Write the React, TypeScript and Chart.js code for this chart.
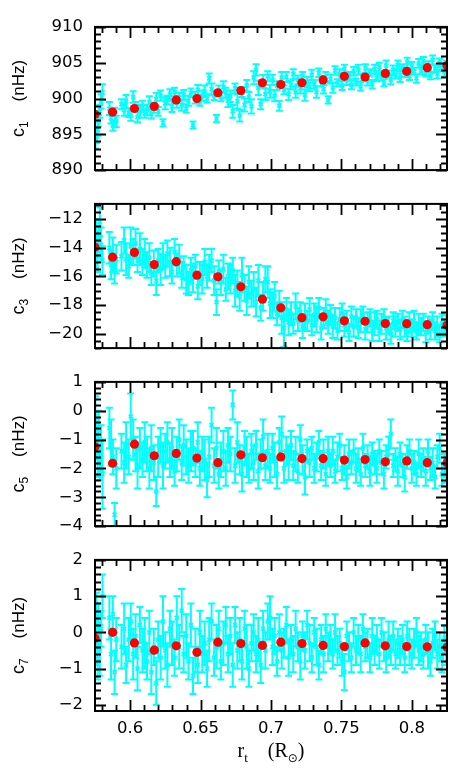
import React, { useEffect, useRef } from "react";
import { Chart, registerables } from "chart.js";

Chart.register(...registerables);

// ---------- data ----------
const R_T = [
  0.5753, 0.5760, 0.5768, 0.5776, 0.5784, 0.5793, 0.5803, 0.5852, 0.5864, 0.5877,
  0.5889, 0.5901, 0.5938, 0.5957, 0.5971, 0.5990, 0.6004, 0.6021, 0.6038, 0.6052,
  0.6069, 0.6087, 0.6103, 0.6119, 0.6136, 0.6150, 0.6168, 0.6185, 0.6199, 0.6216,
  0.6233, 0.6249, 0.6264, 0.6282, 0.6297, 0.6315, 0.6331, 0.6348, 0.6366, 0.6380,
  0.6398, 0.6414, 0.6431, 0.6446, 0.6463, 0.6480, 0.6495, 0.6512, 0.6529, 0.6546,
  0.6561, 0.6578, 0.6596, 0.6613, 0.6629, 0.6644, 0.6662, 0.6679, 0.6695, 0.6711,
  0.6728, 0.6745, 0.6761, 0.6778, 0.6794, 0.6812, 0.6828, 0.6843, 0.6861, 0.6877,
  0.6894, 0.6910, 0.6927, 0.6944, 0.6960, 0.6977, 0.6993, 0.7010, 0.7026, 0.7043,
  0.7059, 0.7076, 0.7092, 0.7109, 0.7125, 0.7142, 0.7158, 0.7175, 0.7191, 0.7208,
  0.7224, 0.7241, 0.7257, 0.7274, 0.7290, 0.7307, 0.7323, 0.7340, 0.7356, 0.7373,
  0.7389, 0.7406, 0.7422, 0.7439, 0.7455, 0.7472, 0.7488, 0.7505, 0.7521, 0.7538,
  0.7554, 0.7571, 0.7587, 0.7604, 0.7620, 0.7637, 0.7653, 0.7670, 0.7686, 0.7703,
  0.7719, 0.7736, 0.7752, 0.7769, 0.7785, 0.7802, 0.7818, 0.7835, 0.7851, 0.7868,
  0.7884, 0.7901, 0.7917, 0.7934, 0.7950, 0.7967, 0.7983, 0.8000, 0.8016, 0.8033,
  0.8049, 0.8066, 0.8082, 0.8099, 0.8115, 0.8132, 0.8148, 0.8165, 0.8181, 0.8198,
  0.8214, 0.8231, 0.8244,
];

const C1 = [
  893.9, 894.6, 895.8, 896.9, 898.2, 899.6, 900.9, 898.6, 897.3, 896.2,
  897.8, 896.8, 899.2, 898.4, 899.6, 898.0, 897.6, 900.2, 898.9, 897.4,
  898.2, 899.0, 897.9, 898.4, 899.5, 897.8, 898.7, 899.9, 898.2, 900.4,
  896.6, 899.3, 899.8, 900.6, 898.9, 900.9, 899.4, 900.2, 899.1, 900.5,
  898.6, 899.7, 900.8, 896.3, 900.1, 901.2, 899.6, 900.4, 901.0, 900.0,
  902.8, 901.3, 900.4, 897.2, 901.1, 900.2, 901.6, 900.8, 899.7, 900.3,
  898.2, 901.4, 899.6, 897.6, 900.9, 899.1, 901.8, 900.2, 898.9, 902.9,
  904.0, 901.5, 899.2, 902.4, 900.6, 903.1, 901.0, 902.6, 900.4, 901.8,
  899.0, 902.9, 901.2, 903.0, 900.6, 901.9, 903.4, 900.9, 902.6, 901.4,
  903.1, 900.5, 902.3, 901.6, 903.3, 902.0, 900.9, 903.6, 902.4, 901.3,
  903.0, 899.8, 902.7, 901.5, 903.9, 902.2, 903.4, 901.8, 904.1, 902.6,
  903.2, 901.9, 903.8, 902.3, 904.0, 901.7, 903.0, 904.2, 902.5, 903.6,
  902.0, 904.1, 902.9, 904.4, 903.1, 902.2, 904.6, 903.4, 902.6, 904.0,
  903.3, 904.7, 902.9, 904.3, 903.6, 905.0, 903.1, 904.5, 903.8, 902.8,
  904.9, 903.9, 905.2, 903.6, 904.6, 903.2, 905.4, 904.1, 903.4, 905.0,
  904.3, 903.7, 904.8,
];
const C1_ERR = [
  0.9, 0.8, 1.0, 0.8, 0.9, 1.0, 1.1, 0.9, 0.8, 0.7, 0.9, 0.8,
  0.7, 0.8, 0.9, 0.6, 0.7, 0.8, 0.6, 0.7, 0.9, 0.7, 0.6,
  0.7, 0.8, 0.6, 0.7, 0.9, 0.6, 0.7, 0.5, 0.8,
  0.6, 0.7, 0.8, 0.6, 0.7, 0.6, 0.8, 0.7, 0.6,
  0.7, 0.6, 0.5, 0.8, 0.7, 0.6, 0.7, 0.8, 0.6,
  0.7, 0.8, 0.6, 0.5, 0.7, 0.6, 0.8, 0.7, 0.9,
  0.8, 0.9, 0.7, 1.0, 0.8, 0.7, 0.9, 0.8, 0.7, 1.0,
  0.9, 0.8, 1.0, 0.7, 0.9, 0.8, 0.7, 0.9,
  0.7, 0.8, 0.6, 0.7, 0.8, 0.6, 0.7, 0.8,
  0.6, 0.7, 0.8, 0.6, 0.7, 0.6, 0.8, 0.7,
  0.6, 0.7, 0.6, 0.8, 0.6, 0.7, 0.6, 0.7, 0.5,
  0.6, 0.7, 0.6, 0.5, 0.7, 0.6, 0.6, 0.7, 0.5, 0.6,
  0.6, 0.5, 0.7, 0.6, 0.5, 0.6, 0.7, 0.5, 0.6, 0.6,
  0.5, 0.6, 0.6, 0.5, 0.7, 0.5, 0.6, 0.6, 0.5, 0.6,
  0.6, 0.5, 0.6, 0.7, 0.5, 0.6, 0.5, 0.6, 0.6, 0.5,
  0.6, 0.5, 0.6, 0.5, 0.6, 0.5, 0.6, 0.6, 0.5, 0.6, 0.5,
];

const C3 = [
  -14.2, -13.0, -14.6, -13.4, -12.2, -13.8, -14.9, -14.0, -15.2, -14.5,
  -15.6, -14.8, -14.6, -13.5, -14.8, -15.3, -13.9, -14.3, -13.7, -14.9,
  -14.1, -15.0, -14.4, -15.2, -14.7, -15.8, -15.1, -16.3, -14.9, -15.5,
  -14.6, -15.3, -14.4, -15.0, -15.7, -14.3, -15.2, -14.8, -15.9, -15.4,
  -16.2, -16.5, -15.6, -16.1, -15.3, -16.7, -15.8, -16.2, -15.0, -16.0,
  -15.4, -14.9, -16.3, -17.8, -15.7, -16.4, -15.5, -16.9, -16.0, -16.2,
  -15.6, -17.0, -16.5, -17.4, -15.9, -16.8, -17.7, -16.4, -17.2, -16.9,
  -17.8, -16.3, -18.2, -17.4, -16.2, -16.4, -17.9, -18.0, -17.4, -18.6,
  -17.9, -18.9, -19.6, -18.3, -19.2, -18.6, -19.3, -18.1, -19.0, -18.5,
  -19.5, -18.8, -19.1, -18.3, -19.4, -18.7, -19.0, -18.2, -19.6, -18.9,
  -18.5, -19.2, -18.7, -19.5, -18.9, -19.8, -19.0, -18.6, -19.4, -19.1,
  -19.9, -18.8, -19.5, -18.9, -19.6, -19.1, -18.7, -19.7, -19.2, -18.9,
  -19.8, -19.3, -19.0, -19.8, -19.3, -18.9, -19.6, -19.4, -20.0, -19.1,
  -19.5, -19.2, -19.7, -19.0, -19.5, -19.9, -19.2, -19.6, -19.1, -19.8,
  -19.3, -19.5, -19.2, -19.9, -19.4, -19.7, -19.1, -19.8, -19.5, -20.0,
  -19.3, -19.6, -19.4,
];
const C3_ERR = [
  1.2, 1.0, 1.1, 0.9, 1.0, 1.2, 1.0, 1.1, 1.0, 1.2, 0.9, 1.0,
  1.0, 0.9, 1.1, 0.8, 1.3, 0.9, 1.0, 0.8, 1.1, 0.9, 1.0,
  0.9, 1.0, 0.8, 0.9, 1.0, 0.8, 1.1, 0.9, 0.8,
  0.9, 1.0, 0.8, 0.9, 0.8, 1.0, 0.9, 0.8, 1.0,
  0.8, 0.9, 1.0, 0.8, 0.9, 0.8, 1.0, 0.9, 0.8,
  0.9, 0.8, 1.0, 0.9, 0.8, 0.9, 1.0, 0.8, 0.9,
  1.0, 0.9, 1.1, 0.9, 1.0, 1.2, 0.9, 1.0, 1.1, 0.9,
  1.2, 1.0, 1.1, 0.9, 1.0, 0.9, 1.1, 1.0,
  0.9, 1.0, 0.8, 0.9, 1.1, 1.3, 0.8, 0.9,
  0.8, 0.7, 0.9, 0.8, 0.7, 0.8, 0.9, 0.7,
  0.8, 0.7, 0.8, 0.9, 0.7, 0.8, 0.7, 0.9, 0.8,
  0.7, 0.8, 0.7, 0.6, 0.8, 0.7, 0.8, 0.7, 0.6, 0.7,
  0.7, 0.6, 0.7, 0.8, 0.6, 0.7, 0.7, 0.6, 0.7, 0.8,
  0.6, 0.7, 0.7, 0.6, 0.8, 0.6, 0.7, 0.6, 0.7, 0.6,
  0.7, 0.6, 0.7, 0.6, 0.7, 0.6, 0.7, 0.6, 0.7, 0.6,
  0.6, 0.7, 0.6, 0.7, 0.6, 0.6, 0.7, 0.6, 0.7, 0.6, 0.7,
];

const C5 = [
  -0.1, -1.0, -1.5, -0.7, -1.8, -1.3, -2.2, -0.6, -1.1, -1.6,
  -3.6, -2.0, -1.4, -1.8, -1.2, -1.6, -0.2, -1.0, -1.5, -1.9,
  -1.3, -1.7, -1.1, -1.5, -2.0, -1.3, -1.8, -2.8, -1.6, -1.2,
  -1.9, -1.4, -1.1, -1.7, -1.3, -2.1, -1.5, -1.0, -1.8, -1.2,
  -1.6, -1.9, -1.4, -1.3, -1.8, -1.1, -2.0, -1.5, -1.7, -2.4,
  -1.6, -0.5, -1.9, -1.3, -2.2, -1.7, -1.4, -2.0, -1.2, -1.5,
  0.2, -1.9, -1.1, -1.7, -2.2, -1.3, -1.6, -2.0, -1.4, -1.8,
  -1.2, -2.1, -1.5, -0.9, -1.9, -1.4, -2.0, -1.3, -1.7, -2.2,
  -1.1, -0.8, -2.0, -1.4, -1.8, -1.2, -1.9, -1.5, -2.1, -1.0,
  -1.7, -2.3, -1.4, -1.8, -1.3, -2.0, -1.6, -1.1, -1.9, -1.5,
  -2.2, -1.4, -1.9, -1.4, -2.1, -1.6, -1.2, -2.0, -1.7, -2.3,
  -1.5, -1.8, -1.4, -2.0, -1.7, -2.2, -1.3, -1.9, -1.6, -2.1,
  -1.5, -1.8, -2.0, -1.4, -1.8, -2.2, -1.6, -1.3, -0.8, -1.9,
  -1.7, -2.1, -1.5, -1.9, -2.3, -1.6, -1.4, -2.0, -1.8, -2.2,
  -1.5, -1.9, -1.7, -2.1, -1.4, -2.0, -1.8, -2.3, -1.6, -1.3,
  -2.2, -1.9, -2.0,
];
const C5_ERR = [
  0.6, 0.7, 0.8, 0.7, 0.6, 0.8, 1.2, 0.7, 0.8, 0.6, 0.4, 0.7,
  0.6, 0.7, 0.8, 0.6, 0.8, 0.7, 0.6, 0.8, 0.7, 0.6, 0.7,
  0.6, 0.7, 0.8, 0.6, 0.5, 0.7, 0.6, 0.8, 0.6,
  0.7, 0.6, 0.7, 0.5, 0.6, 0.7, 0.6, 0.7, 0.6,
  0.6, 0.7, 0.6, 0.5, 0.7, 0.6, 0.6, 0.7, 0.6,
  0.7, 0.6, 0.6, 0.7, 0.5, 0.6, 0.7, 0.6, 0.6,
  0.6, 0.5, 0.6, 0.7, 0.5, 0.6, 0.6, 0.7, 0.5, 0.6,
  0.6, 0.5, 0.6, 0.5, 0.6, 0.5, 0.6, 0.5,
  0.5, 0.6, 0.5, 0.5, 0.6, 0.5, 0.5, 0.6,
  0.5, 0.5, 0.6, 0.4, 0.5, 0.5, 0.6, 0.4,
  0.5, 0.4, 0.5, 0.5, 0.4, 0.5, 0.5, 0.4, 0.5,
  0.4, 0.5, 0.4, 0.5, 0.4, 0.4, 0.5, 0.4, 0.5, 0.4,
  0.4, 0.5, 0.4, 0.4, 0.5, 0.4, 0.4, 0.5, 0.4, 0.4,
  0.5, 0.4, 0.4, 0.5, 0.4, 0.4, 0.5, 0.4, 0.4, 0.5,
  0.4, 0.4, 0.5, 0.4, 0.4, 0.5, 0.4, 0.4, 0.5, 0.4,
  0.4, 0.5, 0.4, 0.4, 0.5, 0.4, 0.4, 0.5, 0.4, 0.4, 0.5,
];

const C7 = [
  -0.3, 0.4, -0.8, 0.2, -0.5, 0.1, 1.0, 0.4, -0.6, 0.5,
  -1.1, -0.2, -0.4, 0.1, -0.9, -0.2, 0.3, -0.6, -0.1, -1.0,
  0.2, -0.5, -0.3, -0.8, 0.0, -1.1, -0.4, -1.4, -0.2, -0.7,
  0.3, -0.5, -0.9, 0.1, -0.3, -0.7, 0.4, -0.4, 0.6, -0.6,
  -0.1, -0.8, 0.2, -1.2, -0.5, -0.9, 0.0, -0.6, -0.3, -1.0,
  -0.2, 0.3, -0.7, -0.4, 0.1, -0.8, -0.3, 0.2, -0.6, -0.1,
  -0.9, 0.2, -0.5, -0.2, -0.8, 0.1, -0.4, -1.0, -0.3, 0.0,
  -0.6, -0.2, -0.9, 0.1, -0.5, 0.3, 0.4, -0.4, -0.1, -0.8,
  0.0, -0.5, -0.3, 0.2, -0.7, -0.2, -0.6, 0.1, -0.4, -0.8,
  -0.1, -0.5, 0.2, -0.3, -0.7, 0.0, -0.4, -0.9, -0.2, -0.6,
  0.1, -0.4, -0.2, -0.6, 0.0, -0.5, -0.3, -0.8, -1.1, -0.1,
  -0.4, -0.7, 0.0, -0.5, -0.2, -0.6, 0.1, -0.4, -0.3, -0.7,
  -0.1, -0.5, -0.2, -0.6, 0.0, -0.4, -0.7, -0.2, -0.5, -0.1,
  -0.6, -0.3, -0.5, -0.2, -0.7, -0.1, -0.4, -0.6, -0.3, 0.0,
  -0.5, -0.4, -0.6, -0.2, -0.5, -0.8, -0.3, -0.1, -0.6, -0.4,
  -0.7, -0.2, -0.5,
];
const C7_ERR = [
  0.6, 0.7, 0.5, 0.6, 0.7, 0.5, 0.6, 0.6, 0.7, 0.5, 0.6, 0.6,
  0.6, 0.7, 0.5, 0.6, 0.5, 0.7, 0.6, 0.6, 0.5, 0.6, 0.7,
  0.5, 0.6, 0.6, 0.5, 0.6, 0.5, 0.6, 0.7, 0.5,
  0.6, 0.5, 0.6, 0.5, 0.6, 0.6, 0.6, 0.5, 0.6,
  0.5, 0.6, 0.5, 0.6, 0.5, 0.6, 0.5, 0.6, 0.5,
  0.6, 0.5, 0.5, 0.6, 0.5, 0.5, 0.6, 0.5, 0.5,
  0.5, 0.6, 0.5, 0.5, 0.6, 0.5, 0.5, 0.6, 0.5, 0.5,
  0.5, 0.5, 0.6, 0.5, 0.5, 0.5, 0.5, 0.6,
  0.5, 0.5, 0.4, 0.5, 0.5, 0.4, 0.5, 0.5,
  0.4, 0.5, 0.5, 0.4, 0.5, 0.4, 0.5, 0.4,
  0.5, 0.4, 0.4, 0.5, 0.4, 0.4, 0.5, 0.4, 0.4,
  0.4, 0.4, 0.5, 0.4, 0.4, 0.4, 0.5, 0.4, 0.4, 0.4,
  0.4, 0.4, 0.4, 0.5, 0.4, 0.4, 0.4, 0.4, 0.5, 0.4,
  0.4, 0.4, 0.4, 0.4, 0.4, 0.5, 0.4, 0.4, 0.4, 0.4,
  0.4, 0.4, 0.4, 0.4, 0.5, 0.4, 0.4, 0.4, 0.4, 0.4,
  0.4, 0.4, 0.5, 0.4, 0.4, 0.4, 0.4, 0.4, 0.4, 0.4, 0.4,
];

const RED_X = [0.575, 0.5875, 0.603, 0.6171, 0.6327, 0.6474, 0.6623, 0.6786, 0.6939, 0.707, 0.722, 0.737, 0.7521, 0.7668, 0.7812, 0.7964, 0.811, 0.825];
const RED_C1 = [897.8, 898.1, 898.6, 898.9, 899.8, 900.0, 900.8, 901.1, 902.2, 901.95, 902.2, 902.6, 903.1, 903.0, 903.5, 903.8, 904.3, 904.6];
const RED_C3 = [-13.97, -14.66, -14.33, -15.18, -14.98, -15.92, -16.03, -16.73, -17.59, -18.19, -18.88, -18.82, -19.1, -19.13, -19.29, -19.3, -19.37, -19.41];
const RED_C5 = [-1.25, -1.82, -1.16, -1.56, -1.48, -1.64, -1.8, -1.53, -1.63, -1.6, -1.66, -1.66, -1.71, -1.69, -1.77, -1.74, -1.8, -1.8];
const RED_C7 = [-0.16, 0.0, -0.29, -0.49, -0.37, -0.55, -0.27, -0.31, -0.36, -0.27, -0.31, -0.36, -0.39, -0.29, -0.37, -0.39, -0.4, -0.41];

const X_TICKS = [0.6, 0.65, 0.7, 0.75, 0.8];
const C1_TICKS = [890, 895, 900, 905, 910];
const C3_TICKS = [-20, -18, -16, -14, -12];
const C5_TICKS = [-4, -3, -2, -1, 0, 1];
const C7_TICKS = [-2, -1, 0, 1, 2];

// ---------- styling ----------
const CYAN = "#00ffff";
const RED = "#ff0000";
const TICK_FONT = { family: "DejaVu Sans", size: 16.5 };
const W = 457;
const PLOT_LEFT = 95;
const PLOT_RIGHT = 447;
const PAD = 14;
const X_MIN = 0.575;
const X_MAX = 0.825;
const X_MINOR = 0.01;

type Panel = {
  sub: string;
  values: number[];
  errors: number[];
  red: number[];
  min: number;
  max: number;
  majors: number[];
  minorStep: number;
  top: number;
  bottom: number;
};

const PANELS: Panel[] = [
  { sub: "1", values: C1, errors: C1_ERR, red: RED_C1, min: 890, max: 910, majors: C1_TICKS, minorStep: 1, top: 19, bottom: 178 },
  { sub: "3", values: C3, errors: C3_ERR, red: RED_C3, min: -21, max: -10.95, majors: C3_TICKS, minorStep: 0.5, top: 196, bottom: 356 },
  { sub: "5", values: C5, errors: C5_ERR, red: RED_C5, min: -4, max: 1, majors: C5_TICKS, minorStep: 0.2, top: 374, bottom: 534 },
  { sub: "7", values: C7, errors: C7_ERR, red: RED_C7, min: -2.17, max: 2, majors: C7_TICKS, minorStep: 0.2, top: 552, bottom: 711 },
];

function fmt(v: number): string {
  return v < 0 ? "\u2212" + String(Math.abs(v)) : String(v);
}

function stepValues(min: number, max: number, step: number): number[] {
  const out: number[] = [];
  const k0 = Math.ceil(min / step - 1e-6);
  const k1 = Math.floor(max / step + 1e-6);
  for (let k = k0; k <= k1; k++) out.push(+(k * step).toFixed(6));
  return out;
}

type Seg = { text: string; font: string; dy: number; gap?: number };

function drawSegs(ctx: CanvasRenderingContext2D, segs: Seg[], cx: number, cy: number, rotate: boolean) {
  ctx.save();
  ctx.translate(cx, cy);
  if (rotate) ctx.rotate(-Math.PI / 2);
  ctx.fillStyle = "#000";
  ctx.textBaseline = "alphabetic";
  ctx.textAlign = "left";
  const widths = segs.map((s) => {
    ctx.font = s.font;
    return ctx.measureText(s.text).width + (s.gap || 0);
  });
  const total = widths.reduce((a, b) => a + b, 0);
  let x = -total / 2;
  segs.forEach((s, i) => {
    ctx.font = s.font;
    ctx.fillText(s.text, x, s.dy);
    x += widths[i];
  });
  ctx.restore();
}

function makeErrorBars(panel: Panel) {
  return {
    id: "errorBars",
    beforeDatasetsDraw(chart: any) {
      const { ctx, chartArea: a, scales } = chart;
      const xs = scales.x;
      const ys = scales.y;
      ctx.save();
      ctx.beginPath();
      ctx.rect(a.left, a.top, a.right - a.left, a.bottom - a.top);
      ctx.clip();
      ctx.strokeStyle = CYAN;
      ctx.lineWidth = 2;
      ctx.beginPath();
      const cap = 3.5;
      for (let i = 0; i < R_T.length; i++) {
        const px = xs.getPixelForValue(R_T[i]);
        const y1 = ys.getPixelForValue(panel.values[i] - panel.errors[i]);
        const y2 = ys.getPixelForValue(panel.values[i] + panel.errors[i]);
        ctx.moveTo(px, y1);
        ctx.lineTo(px, y2);
        ctx.moveTo(px - cap, y1);
        ctx.lineTo(px + cap, y1);
        ctx.moveTo(px - cap, y2);
        ctx.lineTo(px + cap, y2);
      }
      ctx.stroke();
      ctx.restore();
    },
  };
}

function makeFrame(panel: Panel, last: boolean) {
  return {
    id: "frame",
    afterDraw(chart: any) {
      const { ctx, chartArea: a, scales } = chart;
      const xs = scales.x;
      const ys = scales.y;
      const MAJ = 11;
      const MIN = 6;
      ctx.save();
      ctx.strokeStyle = "#000";
      ctx.lineWidth = 1.8;
      ctx.beginPath();
      for (const v of stepValues(X_MIN, X_MAX, X_MINOR)) {
        const isMaj = X_TICKS.some((t) => Math.abs(t - v) < 1e-6);
        const len = isMaj ? MAJ : MIN;
        const px = Math.round(xs.getPixelForValue(v)) + 0.5;
        ctx.moveTo(px, a.bottom);
        ctx.lineTo(px, a.bottom - len);
        ctx.moveTo(px, a.top);
        ctx.lineTo(px, a.top + len);
      }
      for (const v of stepValues(panel.min, panel.max, panel.minorStep)) {
        const isMaj = panel.majors.some((t) => Math.abs(t - v) < 1e-6);
        const len = isMaj ? MAJ : MIN;
        const py = Math.round(ys.getPixelForValue(v)) + 0.5;
        ctx.moveTo(a.left, py);
        ctx.lineTo(a.left + len, py);
        ctx.moveTo(a.right, py);
        ctx.lineTo(a.right - len, py);
      }
      ctx.stroke();
      ctx.lineWidth = 2;
      ctx.strokeRect(a.left, a.top, a.right - a.left, a.bottom - a.top);
      ctx.restore();

      // y title
      drawSegs(
        ctx,
        [
          { text: "c", font: "18px 'Liberation Sans', sans-serif", dy: 0 },
          { text: panel.sub, font: "12px 'Liberation Sans', sans-serif", dy: 4, gap: 20 },
          { text: "(nHz)", font: "17px 'Liberation Sans', sans-serif", dy: 0 },
        ],
        24,
        (a.top + a.bottom) / 2,
        true
      );

      if (last) {
        const serif = "'Liberation Serif', 'DejaVu Serif', serif";
        drawSegs(
          ctx,
          [
            { text: "r", font: `20px ${serif}`, dy: 0 },
            { text: "t", font: `13px ${serif}`, dy: 5, gap: 20 },
            { text: "(R", font: `20px ${serif}`, dy: 0 },
            { text: "\u2299", font: `12px 'DejaVu Sans', sans-serif`, dy: 5 },
            { text: ")", font: `20px ${serif}`, dy: 0 },
          ],
          (a.left + a.right) / 2,
          a.bottom + 46,
          false
        );
      }
    },
  };
}

function PanelChart({ panel, last }: { panel: Panel; last: boolean }) {
  const ref = useRef<HTMLCanvasElement | null>(null);
  const canvasTop = panel.top - PAD;
  const canvasHeight = last ? 776 - canvasTop : panel.bottom - panel.top + PAD * 2;

  useEffect(() => {
    if (!ref.current) return;
    const chart = new Chart(ref.current, {
      type: "scatter",
      data: {
        datasets: [
          {
            data: R_T.map((x, i) => ({ x, y: panel.values[i] })),
            pointStyle: "crossRot",
            pointRadius: 2.8,
            borderColor: CYAN,
            backgroundColor: CYAN,
            borderWidth: 1.8,
            clip: 0,
            order: 2,
          },
          {
            data: RED_X.map((x, i) => ({ x, y: panel.red[i] })),
            pointStyle: "circle",
            pointRadius: 4.6,
            backgroundColor: RED,
            borderColor: RED,
            borderWidth: 0,
            clip: 0,
            order: 1,
          },
        ],
      } as any,
      options: {
        animation: false,
        responsive: false,
        maintainAspectRatio: false,
        devicePixelRatio: 1,
        events: [],
        layout: { padding: { left: 0, right: W - PLOT_RIGHT, top: PAD, bottom: last ? 0 : PAD } },
        plugins: { legend: { display: false }, tooltip: { enabled: false } },
        scales: {
          x: {
            type: "linear",
            min: X_MIN,
            max: X_MAX,
            display: last,
            grid: { display: false, drawTicks: false },
            border: { display: false },
            ticks: {
              font: TICK_FONT,
              color: "#000",
              padding: 8,
              autoSkip: false,
              maxRotation: 0,
              callback: (v: any) => String(v),
            },
            afterBuildTicks: (s: any) => {
              s.ticks = X_TICKS.map((v) => ({ value: v }));
            },
            afterFit: (s: any) => {
              s.height = last ? 65 : 0;
            },
          },
          y: {
            type: "linear",
            min: panel.min,
            max: panel.max,
            grid: { display: false, drawTicks: false },
            border: { display: false },
            ticks: {
              font: TICK_FONT,
              color: "#000",
              padding: 12,
              autoSkip: false,
              callback: (v: any) => fmt(Number(v)),
            },
            afterBuildTicks: (s: any) => {
              s.ticks = panel.majors.map((v) => ({ value: v }));
            },
            afterFit: (s: any) => {
              s.width = PLOT_LEFT;
            },
          },
        },
      } as any,
      plugins: [makeErrorBars(panel), makeFrame(panel, last)],
    });
    return () => chart.destroy();
  }, []);

  return (
    <canvas
      ref={ref}
      width={W}
      height={canvasHeight}
      style={{ position: "absolute", left: 0, top: canvasTop, width: W, height: canvasHeight, display: "block" }}
    />
  );
}

export default function App() {
  return (
    <div style={{ position: "absolute", left: 0, top: 0, width: W, height: 776, background: "#fff", overflow: "hidden" }}>
      {PANELS.map((p, i) => (
        <PanelChart key={p.sub} panel={p} last={i === PANELS.length - 1} />
      ))}
    </div>
  );
}
